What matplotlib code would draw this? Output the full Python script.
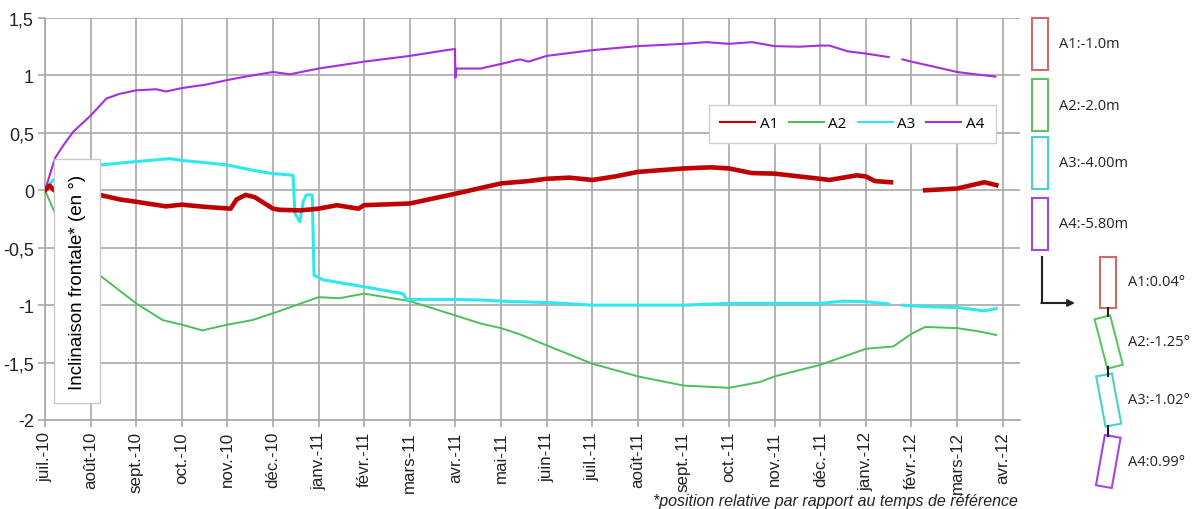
import numpy as np
import matplotlib.pyplot as plt
from matplotlib.patches import Rectangle

nan = np.nan

# mois depuis juil.-10
mois = ['juil.-10', 'août-10', 'sept.-10', 'oct.-10', 'nov.-10', 'déc.-10',
        'janv.-11', 'févr.-11', 'mars-11', 'avr.-11', 'mai-11', 'juin-11',
        'juil.-11', 'août-11', 'sept.-11', 'oct.-11', 'nov.-11', 'déc.-11',
        'janv.-12', 'févr.-12', 'mars-12', 'avr.-12']

a1_t = [0, 0.1, 0.2, 1.2, 1.64, 2, 2.65, 3, 3.53, 4.07, 4.2, 4.4, 4.6, 5, 5.15, 5.6, 6, 6.4,
        6.87, 7, 8, 9, 10, 10.6, 11, 11.5, 12, 12.5, 13, 14, 14.6, 15, 15.5, 16, 16.55, 17,
        17.2, 17.8, 18, 18.2, 18.55, nan, 19.3, 20, 20.6, 20.86]
a1_v = [0, 0.04, 0.0, -0.04, -0.08, -0.10, -0.14, -0.125, -0.145, -0.16, -0.08, -0.04, -0.06,
        -0.16, -0.17, -0.175, -0.16, -0.13, -0.16, -0.13, -0.115, -0.03, 0.06, 0.08, 0.10,
        0.11, 0.09, 0.12, 0.16, 0.19, 0.20, 0.19, 0.15, 0.145, 0.12, 0.10, 0.09, 0.13, 0.12,
        0.08, 0.07, nan, 0.0, 0.015, 0.07, 0.045]

a2_t = [0, 0.22, 1.2, 2, 2.58, 3, 3.45, 4, 4.55, 5, 5.15, 6, 6.45, 7, 8, 9, 9.55, 10, 10.42,
        11, 12, 13, 14, 15, 15.67, 16, 17, 18, 18.6, 19, 19.3, 20, 20.5, 20.86]
a2_v = [0, -0.2, -0.74, -0.985, -1.13, -1.17, -1.22, -1.17, -1.13, -1.07, -1.05, -0.93, -0.94,
        -0.90, -0.965, -1.09, -1.16, -1.2, -1.255, -1.35, -1.51, -1.62, -1.70, -1.72, -1.67,
        -1.62, -1.52, -1.38, -1.36, -1.25, -1.19, -1.20, -1.23, -1.26]

a3_t = [0, 0.18, 1.2, 2, 2.73, 3, 3.53, 4, 4.62, 5, 5.2, 5.44, 5.48, 5.59, 5.66, 5.73, 5.86,
        5.9, 6.1, 7, 7.85, 7.93, 9, 9.55, 10.25, 10.42, 11.15, 12, 13, 14, 15, 16, 17, 17.5,
        18, 18.5, nan, 18.8, 19.45, 20, 20.6, 20.86]
a3_v = [0, 0.09, 0.22, 0.25, 0.275, 0.26, 0.24, 0.22, 0.17, 0.145, 0.14, 0.13, -0.2, -0.275,
        -0.1, -0.04, -0.04, -0.74, -0.78, -0.84, -0.90, -0.95, -0.95, -0.955, -0.97, -0.97,
        -0.98, -1.0, -1.0, -1.0, -0.985, -0.985, -0.985, -0.965, -0.97, -0.99, nan, -1.0,
        -1.015, -1.02, -1.05, -1.03]

a4_t = [0, 0.22, 0.4, 0.62, 1, 1.35, 1.64, 2, 2.44, 2.65, 3, 3.53, 4, 4.4, 5, 5.37, 6, 7, 8,
        8.8, 8.99, 9.0, 9.02, 9.55, 10, 10.42, 10.6, 11, 12, 13, 14, 14.5, 15, 15.5, 16, 16.55,
        17, 17.2, 17.6, 18, 18.5, nan, 18.8, 19, 19.45, 20, 20.4, 20.84]
a4_v = [0, 0.28, 0.39, 0.51, 0.65, 0.80, 0.84, 0.87, 0.88, 0.86, 0.89, 0.92, 0.96, 0.99, 1.03,
        1.01, 1.06, 1.12, 1.17, 1.22, 1.23, 0.98, 1.06, 1.06, 1.10, 1.14, 1.12, 1.17, 1.22,
        1.255, 1.275, 1.29, 1.275, 1.29, 1.255, 1.25, 1.26, 1.26, 1.21, 1.19, 1.16, nan, 1.14,
        1.12, 1.08, 1.03, 1.01, 0.99]

profondeurs = ['A1:-1.0m', 'A2:-2.0m', 'A3:-4.00m', 'A4:-5.80m']
inclinaisons = ['A1:0.04°', 'A2:-1.25°', 'A3:-1.02°', 'A4:0.99°']

couleurs = ['#c00000', '#4cbf5c', '#2ee8f0', '#a42ee0']
couleurs_cadre = ['#d06a6a', '#5cc466', '#45d4cc', '#a446e0']

fig = plt.figure(figsize=(11.96, 5.1), dpi=100)
ax = fig.add_axes([45 / 1196, 1 - 421 / 510, 975 / 1196, 402 / 510])

ax.plot(a1_t, a1_v, color=couleurs[0], lw=3.3, label='A1', zorder=4)
ax.plot(a2_t, a2_v, color=couleurs[1], lw=1.4, label='A2', zorder=3)
ax.plot(a3_t, a3_v, color=couleurs[2], lw=2.2, label='A3', zorder=3)
ax.plot(a4_t, a4_v, color=couleurs[3], lw=1.5, label='A4', zorder=3)

ax.set_xlim(0, 21.38)
ax.set_ylim(-2, 1.5)
ax.set_xticks(range(len(mois)))
ax.set_xticklabels(mois, rotation=90, fontsize=12.2, family='Liberation Sans', color='#222222')
yt = [-2, -1.5, -1, -0.5, 0, 0.5, 1, 1.5]
ax.set_yticks(yt)
ax.set_yticklabels([('%g' % v).replace('.', ',') for v in yt], fontsize=13,
                   family='Liberation Sans', color='#222222')
ax.grid(True, color='#a8a8a8', lw=1.2)
ax.set_axisbelow(True)
ax.tick_params(axis='both', color='#a8a8a8', length=5, width=1.2, pad=3)
for s in ['top', 'right']:
    ax.spines[s].set_visible(False)
for s in ['left', 'bottom']:
    ax.spines[s].set_color('#a8a8a8')
    ax.spines[s].set_linewidth(1.2)

leg = ax.legend(ncol=4, loc='upper right', bbox_to_anchor=(0.983, 0.803),
                prop={'family': 'Open Sans', 'size': 11}, fancybox=False,
                edgecolor='#d0d0d0', framealpha=1, handlelength=2.3,
                columnspacing=0.7, handletextpad=0.3, borderpad=0.75)
for h in leg.get_lines():
    h.set_linewidth(1.5)

ax.text(77 / 1196, 1 - 282 / 510, 'Inclinaison frontale* (en °)', transform=fig.transFigure,
        rotation=90, ha='center', va='center', fontsize=13.5, family='Liberation Sans',
        zorder=10, bbox=dict(boxstyle='square,pad=0.75', fc='white', ec='#c8c8c8', lw=1))

fig.text(1018 / 1196, 1 - 502 / 510, '*position relative par rapport au temps de référence',
         ha='right', va='center', fontsize=11.5, style='italic', family='Liberation Sans',
         color='#222222')

# schéma à droite, en pixels
ov = fig.add_axes([0, 0, 1, 1], facecolor='none')
ov.set_xlim(0, 1196)
ov.set_ylim(510, 0)
ov.axis('off')

haut = [19, 80, 138, 199]
for i in range(4):
    ov.add_patch(Rectangle((1032, haut[i]), 15.5, 51.5, fill=False,
                           ec=couleurs_cadre[i], lw=1.5))
    ov.text(1059, haut[i] + 26, profondeurs[i], ha='left', va='center',
            fontsize=10.5, family='Open Sans', color='#222222')

ov.plot([1042, 1042], [258, 304], color='#222222', lw=1.5)
ov.annotate('', xy=(1075, 304), xytext=(1041.3, 304),
            arrowprops=dict(arrowstyle='-|>', color='#222222', lw=1.5,
                            mutation_scale=10, shrinkA=0, shrinkB=0))

centres = [(1108.3, 283), (1108.7, 343), (1108.7, 401), (1108.3, 462.5)]
angles = [0, -14.5, -10.5, 10]
for i in range(4):
    cx, cy = centres[i]
    ov.add_patch(Rectangle((cx - 8, cy - 25.5), 16, 51, angle=angles[i],
                           rotation_point='center', fill=False,
                           ec=couleurs_cadre[i], lw=1.5))
    ov.text(1128, cy, inclinaisons[i], ha='left', va='center',
            fontsize=10.5, family='Open Sans', color='#222222')

for y0, y1 in [(309, 317), (368, 377), (427, 437)]:
    ov.plot([1108, 1108], [y0, y1], color='#222222', lw=1.5)

fig.savefig('out.png', dpi=100)
